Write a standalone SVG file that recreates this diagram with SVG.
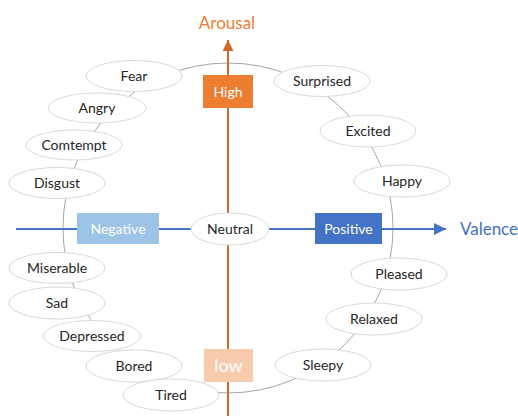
<svg xmlns="http://www.w3.org/2000/svg" width="518" height="416" viewBox="0 0 518 416">
<style>
.n ellipse{fill:#fff;stroke:#D9D9D9;stroke-width:1}
.n text{font-family:Lato,"Liberation Sans",sans-serif;font-size:14px;fill:#262626;text-anchor:middle}
.b text{font-family:Lato,"Liberation Sans",sans-serif;font-size:14px;fill:#fff;text-anchor:middle}
.ax{font-family:Lato,"Liberation Sans",sans-serif;font-size:17px;text-anchor:middle}
</style>
<defs>
<marker id="ao" markerWidth="11" markerHeight="11" refX="10" refY="5" orient="auto" markerUnits="userSpaceOnUse" viewBox="0 0 10 10"><path d="M0,0 L10,5 L0,10 z" fill="#CD6A27"/></marker>
<marker id="ab" markerWidth="12" markerHeight="12" refX="10" refY="5" orient="auto" markerUnits="userSpaceOnUse" viewBox="0 0 10 10"><path d="M0,0 L10,5 L0,10 z" fill="#4472C4"/></marker>
</defs>
<g id="connectors">
<circle cx="228" cy="228" r="165" fill="none" stroke="#A6A6A6" stroke-width="1"/>
<line x1="228" y1="416" x2="228" y2="40" stroke="#CD6A27" stroke-width="2" marker-end="url(#ao)"/>
<line x1="16" y1="229" x2="446" y2="229" stroke="#4472C4" stroke-width="2" marker-end="url(#ab)"/>
</g>
<text class="ax" x="227" y="29" fill="#ED7D31">Arousal</text>
<text class="ax" x="489" y="235" fill="#4472C4">Valence</text>
<g id="high" class="b"><rect x="203" y="75" width="50" height="33" fill="#ED7D31"/><text x="228" y="97">High</text></g>
<g id="low" class="b"><rect x="204" y="349" width="49" height="33" fill="#F8CBAD"/><text x="228.5" y="372" style="font-size:18px">low</text></g>
<g id="negative" class="b"><rect x="77" y="213" width="82" height="31" fill="#9DC3E6"/><text x="118" y="234">Negative</text></g>
<g id="positive" class="b"><rect x="315" y="213" width="67" height="31" fill="#4472C4"/><text x="348.5" y="234">Positive</text></g>
<g id="neutral" class="n"><ellipse cx="230" cy="229" rx="39" ry="16"/><text x="230" y="234">Neutral</text></g>
<g id="fear" class="n"><ellipse cx="134" cy="76" rx="48" ry="15.5"/><text x="134" y="81">Fear</text></g>
<g id="angry" class="n"><ellipse cx="97" cy="108" rx="49" ry="15"/><text x="97" y="113">Angry</text></g>
<g id="comtempt" class="n"><ellipse cx="74" cy="145" rx="48" ry="15"/><text x="74" y="150">Comtempt</text></g>
<g id="disgust" class="n"><ellipse cx="57" cy="183" rx="48" ry="15.5"/><text x="57" y="188">Disgust</text></g>
<g id="surprised" class="n"><ellipse cx="322" cy="81" rx="48" ry="15.5"/><text x="322" y="86">Surprised</text></g>
<g id="excited" class="n"><ellipse cx="368" cy="131" rx="48" ry="16"/><text x="368" y="136">Excited</text></g>
<g id="happy" class="n"><ellipse cx="402" cy="181" rx="48" ry="16"/><text x="402" y="186">Happy</text></g>
<g id="miserable" class="n"><ellipse cx="57" cy="268" rx="48" ry="15.5"/><text x="57" y="273">Miserable</text></g>
<g id="sad" class="n"><ellipse cx="57" cy="303" rx="48" ry="16"/><text x="57" y="308">Sad</text></g>
<g id="depressed" class="n"><ellipse cx="92" cy="336" rx="49" ry="15.5"/><text x="92" y="341">Depressed</text></g>
<g id="bored" class="n"><ellipse cx="134" cy="366" rx="48" ry="16"/><text x="134" y="371">Bored</text></g>
<g id="tired" class="n"><ellipse cx="171" cy="395" rx="48" ry="16"/><text x="171" y="400">Tired</text></g>
<g id="pleased" class="n"><ellipse cx="399" cy="274" rx="48" ry="16"/><text x="399" y="279">Pleased</text></g>
<g id="relaxed" class="n"><ellipse cx="374" cy="319" rx="48" ry="16"/><text x="374" y="324">Relaxed</text></g>
<g id="sleepy" class="n"><ellipse cx="323" cy="365" rx="48" ry="16"/><text x="323" y="370">Sleepy</text></g>
</svg>
